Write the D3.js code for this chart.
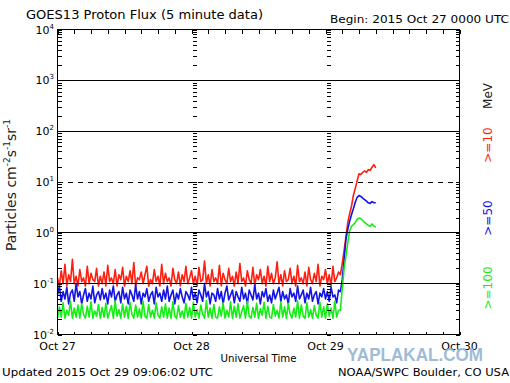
<!DOCTYPE html>
<html>
<head>
<meta charset="utf-8">
<script src="https://cdn.jsdelivr.net/npm/d3@7"></script>
<style>
  body { margin: 0; background: #fff; }
  svg { display: block; font-family: 'DejaVu Sans', sans-serif; }
</style>
</head>
<body>
<div id="container"></div>
<script>
// GOES13 proton flux, sampled every 20 min from 2015 Oct 27 0000 UTC
const start = Date.UTC(2015, 9, 27, 0, 0);
const stepMinutes = 20;

const p10 = [
  0.13, 0.09, 0.18, 0.10, 0.24, 0.09, 0.15, 0.11, 0.30, 0.10, 0.14, 0.09,
  0.19, 0.11, 0.13, 0.09, 0.22, 0.10, 0.16, 0.12, 0.11, 0.20, 0.09, 0.14,
  0.10, 0.17, 0.09, 0.23, 0.11, 0.13, 0.10, 0.19, 0.09, 0.15, 0.12, 0.21,
  0.09, 0.14, 0.11, 0.18, 0.10, 0.26, 0.09, 0.13, 0.12, 0.17, 0.10, 0.15,
  0.22, 0.09, 0.12, 0.10, 0.19, 0.11, 0.14, 0.09, 0.24, 0.10, 0.16, 0.11,
  0.13, 0.09, 0.20, 0.12, 0.10, 0.17, 0.09, 0.15, 0.11, 0.22, 0.10, 0.13,
  0.18, 0.10, 0.14, 0.09, 0.21, 0.11, 0.12, 0.28, 0.10, 0.15, 0.09, 0.19,
  0.11, 0.13, 0.10, 0.23, 0.09, 0.16, 0.12, 0.10, 0.20, 0.11, 0.14, 0.09,
  0.17, 0.10, 0.25, 0.11, 0.13, 0.09, 0.18, 0.12, 0.10, 0.21, 0.09, 0.15,
  0.12, 0.19, 0.10, 0.14, 0.09, 0.22, 0.11, 0.16, 0.10, 0.13, 0.27, 0.10,
  0.15, 0.09, 0.18, 0.11, 0.12, 0.20, 0.10, 0.14, 0.09, 0.23, 0.11, 0.13,
  0.10, 0.17, 0.09, 0.21, 0.12, 0.10, 0.16, 0.11, 0.24, 0.09, 0.14, 0.12,
  0.19, 0.10, 0.15, 0.09, 0.22, 0.11, 0.13, 0.17,
  0.15, 0.25, 0.45, 0.85, 1.6, 2.4, 3.4, 5.5, 7.5, 10.5, 14.5, 14,
  15.5, 16.5, 15.5, 17.5, 17, 19.5, 22, 19
];

const p50 = [
  0.060, 0.090, 0.045, 0.070, 0.050, 0.085, 0.040, 0.065, 0.075, 0.045, 0.100, 0.055,
  0.070, 0.040, 0.060, 0.080, 0.045, 0.065, 0.050, 0.090, 0.042, 0.060, 0.070, 0.048,
  0.080, 0.050, 0.065, 0.040, 0.075, 0.055, 0.090, 0.045, 0.060, 0.070, 0.042, 0.085,
  0.050, 0.065, 0.040, 0.075, 0.060, 0.045, 0.095, 0.050, 0.070, 0.040, 0.065, 0.055,
  0.080, 0.045, 0.060, 0.070, 0.040, 0.085, 0.055, 0.065, 0.045, 0.075, 0.050, 0.090,
  0.045, 0.060, 0.075, 0.040, 0.065, 0.050, 0.080, 0.055, 0.042, 0.070, 0.060, 0.048,
  0.085, 0.050, 0.065, 0.042, 0.075, 0.060, 0.045, 0.100, 0.055, 0.070, 0.040, 0.065,
  0.060, 0.045, 0.080, 0.050, 0.070, 0.040, 0.065, 0.090, 0.048, 0.060, 0.075, 0.042,
  0.070, 0.055, 0.045, 0.085, 0.050, 0.065, 0.040, 0.075, 0.060, 0.048, 0.095, 0.050,
  0.065, 0.040, 0.070, 0.055, 0.080, 0.045, 0.060, 0.042, 0.075, 0.050, 0.065, 0.085,
  0.045, 0.070, 0.050, 0.060, 0.040, 0.080, 0.055, 0.065, 0.045, 0.090, 0.050, 0.060,
  0.075, 0.042, 0.065, 0.050, 0.085, 0.045, 0.060, 0.070, 0.040, 0.065, 0.055, 0.080,
  0.050, 0.070, 0.045, 0.085, 0.055, 0.060, 0.042, 0.075,
  0.07, 0.12, 0.3, 0.75, 1.2, 1.7, 2.3, 3.0, 4.0, 5.0, 5.4, 5.2,
  4.8, 4.5, 4.2, 3.9, 3.8, 4.1, 3.9, 3.9
];

const p100 = [
  0.021, 0.035, 0.022, 0.042, 0.021, 0.030, 0.024, 0.045, 0.021, 0.033, 0.022, 0.038,
  0.021, 0.040, 0.025, 0.021, 0.036, 0.022, 0.044, 0.021, 0.029, 0.023, 0.039, 0.021,
  0.034, 0.022, 0.041, 0.021, 0.028, 0.037, 0.021, 0.046, 0.023, 0.031, 0.021, 0.040,
  0.022, 0.036, 0.021, 0.043, 0.025, 0.021, 0.038, 0.022, 0.032, 0.021, 0.045, 0.023,
  0.021, 0.039, 0.022, 0.030, 0.021, 0.042, 0.024, 0.021, 0.035, 0.022, 0.040, 0.021,
  0.033, 0.021, 0.044, 0.023, 0.021, 0.037, 0.022, 0.029, 0.021, 0.041, 0.022, 0.034,
  0.021, 0.043, 0.022, 0.031, 0.021, 0.038, 0.025, 0.021, 0.046, 0.022, 0.033, 0.021,
  0.039, 0.022, 0.021, 0.035, 0.023, 0.042, 0.021, 0.030, 0.022, 0.044, 0.021, 0.036,
  0.022, 0.040, 0.021, 0.028, 0.037, 0.021, 0.045, 0.023, 0.021, 0.034, 0.022, 0.041,
  0.021, 0.032, 0.024, 0.043, 0.021, 0.036, 0.022, 0.021, 0.039, 0.023, 0.030, 0.021,
  0.044, 0.022, 0.035, 0.021, 0.041, 0.025, 0.021, 0.033, 0.022, 0.046, 0.021, 0.038,
  0.023, 0.021, 0.042, 0.022, 0.031, 0.021, 0.037, 0.024, 0.021, 0.043, 0.022, 0.035,
  0.021, 0.040, 0.023, 0.033, 0.021, 0.045, 0.022, 0.030,
  0.03, 0.08, 0.2, 0.35, 0.65, 1.1, 1.35, 1.45, 1.6, 1.85, 1.95, 1.9,
  1.75, 1.6, 1.5, 1.4, 1.35, 1.5, 1.35, 1.3
];

const dayLabels = ['Oct 27', 'Oct 28', 'Oct 29', 'Oct 30'];
const decadeExps = [-2, -1, 0, 1, 2, 3, 4];
const solidLevels = [1e3, 1e2, 1, 0.1];
const dashedLevels = [10];
const energyLabels = ['>=10', '>=50', '>=100'];

const width = 510; const height = 383;
const mLeft = 57.5; const mRight = 459.5; const mTop = 29.5; const mBottom = 334.5;

const svg = d3.select('#container').append('svg')
    .attr('width', width)
    .attr('height', height);

const days = dayLabels.map((d, i) => new Date(start + i * 864e5));
const x = d3.scaleUtc().domain([days[0], days[3]]).range([mLeft, mRight]);
const y = d3.scaleLog().domain([1e-2, 1e4]).range([mBottom, mTop]);

const series = [
  {values: p10, color: '#ff1e0f', label: energyLabels[0], ly: 145},
  {values: p50, color: '#1414e6', label: energyLabels[1], ly: 218},
  {values: p100, color: '#14ee14', label: energyLabels[2], ly: 288},
];

const line = d3.line()
    .x((d, i) => x(new Date(start + i * stepMinutes * 6e4)))
    .y((d) => y(d));

const plot = svg.append('g');
series.forEach((s) => {
  plot.append('path')
      .attr('d', line(s.values))
      .attr('fill', 'none')
      .attr('stroke', s.color)
      .attr('stroke-width', 1.6)
      .attr('stroke-linejoin', 'round');
});

// grid levels
const grid = svg.append('g').attr('stroke', '#000').attr('shape-rendering', 'crispEdges');
grid.selectAll('.solid').data(solidLevels).enter().append('line')
    .attr('x1', mLeft).attr('x2', mRight)
    .attr('y1', (d) => y(d)).attr('y2', (d) => y(d));
grid.selectAll('.dash').data(dashedLevels).enter().append('line')
    .attr('x1', mLeft).attr('x2', mRight)
    .attr('y1', (d) => y(d)).attr('y2', (d) => y(d))
    .attr('stroke-dasharray', '5,5');

// tick columns: frame sides and day boundaries
const tickAxis = (axis, tx, ty) => {
  const g = svg.append('g')
      .attr('transform', 'translate(' + tx + ',' + ty + ')')
      .attr('shape-rendering', 'crispEdges')
      .call(axis);
  g.select('.domain').remove();
  g.selectAll('line').attr('stroke', '#000');
  return g;
};

tickAxis(d3.axisRight(y).tickSize(4).tickFormat(''), mLeft, 0);
tickAxis(d3.axisLeft(y).tickSize(4).tickFormat(''), mRight, 0);
tickAxis(d3.axisRight(y).tickSize(4).tickFormat(''), Math.round(x(days[1])) + 0.5, 0);
tickAxis(d3.axisRight(y).tickSize(4).tickFormat(''), Math.round(x(days[2])) + 0.5, 0);
tickAxis(d3.axisBottom(x).ticks(d3.utcHour.every(3)).tickSize(4).tickFormat(''), 0, mTop);
tickAxis(d3.axisTop(x).ticks(d3.utcHour.every(3)).tickSize(3).tickFormat(''), 0, mBottom);

svg.append('rect')
    .attr('x', mLeft).attr('y', mTop)
    .attr('width', mRight - mLeft).attr('height', mBottom - mTop)
    .attr('fill', 'none').attr('stroke', '#000')
    .attr('shape-rendering', 'crispEdges');

// y tick labels
const yl = svg.append('g').attr('font-size', 11).attr('fill', '#000').attr('text-anchor', 'end');
decadeExps.forEach((e) => {
  const t = yl.append('text').attr('x', 54).attr('y', y(Math.pow(10, e)) + 4);
  t.append('tspan').text('10');
  t.append('tspan').attr('dy', -5).attr('font-size', 7).text(e < 0 ? '-' + (-e) : e);
});

// x tick labels
svg.append('g').attr('font-size', 11).attr('text-anchor', 'middle')
    .selectAll('text').data(dayLabels).enter().append('text')
    .attr('x', (d, i) => x(days[i]))
    .attr('y', 349.5)
    .text((d) => d);

svg.append('text').attr('x', (mLeft + mRight) / 2).attr('y', 361.5)
    .attr('font-size', 11).attr('text-anchor', 'middle')
    .attr('textLength', 76).attr('lengthAdjust', 'spacingAndGlyphs')
    .text('Universal Time');

svg.append('text').attr('x', 26).attr('y', 18.5).attr('font-size', 12)
    .attr('textLength', 237).attr('lengthAdjust', 'spacingAndGlyphs')
    .text('GOES13 Proton Flux (5 minute data)');
svg.append('text').attr('x', 330).attr('y', 22.5).attr('font-size', 11)
    .attr('textLength', 179).attr('lengthAdjust', 'spacingAndGlyphs')
    .text('Begin: 2015 Oct 27 0000 UTC');
svg.append('text').attr('x', 2).attr('y', 376).attr('font-size', 11)
    .attr('textLength', 211).attr('lengthAdjust', 'spacingAndGlyphs')
    .text('Updated 2015 Oct 29 09:06:02 UTC');
svg.append('text').attr('x', 338).attr('y', 376).attr('font-size', 11)
    .attr('textLength', 171).attr('lengthAdjust', 'spacingAndGlyphs')
    .text('NOAA/SWPC Boulder, CO USA');

// y axis title with superscripts
const yt = svg.append('text')
    .attr('transform', 'translate(16,185) rotate(-90)')
    .attr('font-size', 14).attr('text-anchor', 'middle').attr('fill', '#222');
[['Particles cm', 0], ['-2', 1], ['s', 0], ['-1', 1], ['sr', 0], ['-1', 1]].forEach((p, i, arr) => {
  const prev = i > 0 ? arr[i - 1][1] : 0;
  yt.append('tspan')
      .attr('dy', (prev - p[1]) * 6)
      .attr('font-size', p[1] ? 9 : 14)
      .text(p[0]);
});

// energy labels on the right
svg.append('text').attr('transform', 'translate(492,96) rotate(-90)')
    .attr('font-size', 12).attr('text-anchor', 'middle').attr('fill', '#222')
    .text('MeV');
series.forEach((s) => {
  svg.append('text').attr('transform', 'translate(492,' + s.ly + ') rotate(-90)')
      .attr('font-size', 12).attr('text-anchor', 'middle').attr('fill', s.color)
      .text(s.label);
});

// watermark
svg.append('text').attr('x', 347).attr('y', 361)
    .attr('font-family', 'Liberation Sans, Arial, sans-serif')
    .attr('font-weight', 'bold').attr('font-size', 18)
    .attr('fill', '#8fb0d0').attr('opacity', 0.85)
    .attr('textLength', 136).attr('lengthAdjust', 'spacingAndGlyphs')
    .text('YAPLAKAL.COM');
</script>
</body>
</html>
